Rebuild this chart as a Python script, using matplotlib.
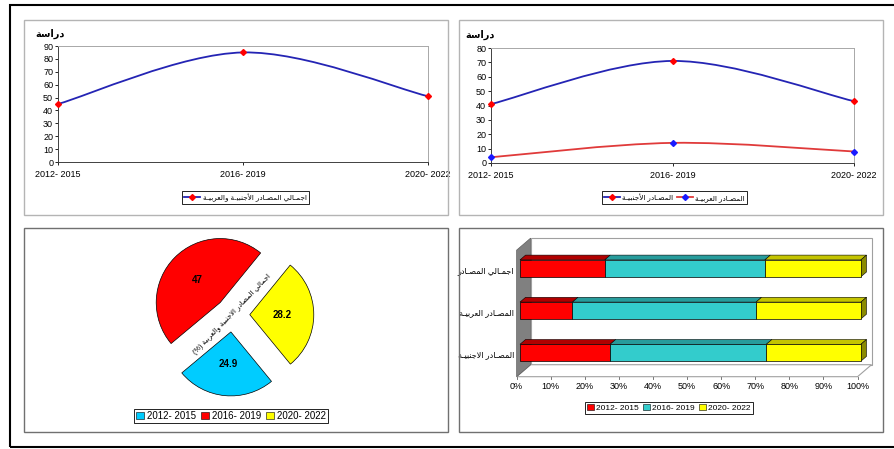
import numpy as np
import matplotlib
matplotlib.use('Agg')
import matplotlib.pyplot as plt
from matplotlib.path import Path
from matplotlib.patches import PathPatch, Polygon, Rectangle, Patch
from matplotlib.lines import Line2D

plt.rcParams['font.family'] = ['Liberation Sans', 'DejaVu Sans']

# data
periods = ['2012- 2015', '2016- 2019', '2020- 2022']
total = [45, 85, 51]
foreign = [41, 71, 43]
arab = [4, 14, 8]
pie_values = [24.9, 47, 28.2]

y_title = 'دراسة'
lbl_total = 'اجمـالي المصـادر الأجنبيـة والعربيـة'
lbl_foreign = 'المصـادر الأجنبيـة'
lbl_arab = 'المصـادر العربيـة'
pie_title = 'اجمالي المصادر الاجنبية والعربية (%)'
bar_rows = ['المصـادر الاجنبيـة', 'المصـادر العربيـة', 'اجمـالي المصـادر']
bar_data = [foreign, arab, total]

period_colors = ['#00CCFF', '#FF0000', '#FFFF00']
bar_colors = ['#FF0000', '#33CCCC', '#FFFF00']
bar_tops = ['#B00000', '#279C9C', '#C4C400']

# simple arabic shaping (presentation forms), then reverse for LTR drawing
FORMS = {
    'ا': ('\uFE8D', '\uFE8E', None, None),
    'أ': ('\uFE83', '\uFE84', None, None),
    'ب': ('\uFE8F', '\uFE90', '\uFE91', '\uFE92'),
    'ة': ('\uFE93', '\uFE94', None, None),
    'ج': ('\uFE9D', '\uFE9E', '\uFE9F', '\uFEA0'),
    'د': ('\uFEA9', '\uFEAA', None, None),
    'ر': ('\uFEAD', '\uFEAE', None, None),
    'س': ('\uFEB1', '\uFEB2', '\uFEB3', '\uFEB4'),
    'ص': ('\uFEB9', '\uFEBA', '\uFEBB', '\uFEBC'),
    'ع': ('\uFEC9', '\uFECA', '\uFECB', '\uFECC'),
    'ل': ('\uFEDD', '\uFEDE', '\uFEDF', '\uFEE0'),
    'م': ('\uFEE1', '\uFEE2', '\uFEE3', '\uFEE4'),
    'ن': ('\uFEE5', '\uFEE6', '\uFEE7', '\uFEE8'),
    'و': ('\uFEED', '\uFEEE', None, None),
    'ي': ('\uFEF1', '\uFEF2', '\uFEF3', '\uFEF4'),
}
LAMALEF = {'ا': ('\uFEFB', '\uFEFC'), 'أ': ('\uFEF7', '\uFEF8')}
TATWEEL = '\u0640'


def ar(s):
    toks = []
    i = 0
    while i < len(s):
        if s[i] == 'ل' and i + 1 < len(s) and s[i + 1] in LAMALEF:
            toks.append(('LA', s[i + 1]))
            i += 2
        else:
            toks.append(('C', s[i]))
            i += 1

    def joins_next(t):
        if t[0] == 'LA':
            return False
        if t[1] == TATWEEL:
            return True
        f = FORMS.get(t[1])
        return f is not None and f[2] is not None

    def joining(t):
        return t[0] == 'LA' or t[1] in FORMS or t[1] == TATWEEL

    out = []
    for k, t in enumerate(toks):
        prev = toks[k - 1] if k > 0 else None
        nxt = toks[k + 1] if k + 1 < len(toks) else None
        jp = prev is not None and joins_next(prev) and joining(t)
        jn = nxt is not None and joins_next(t) and joining(nxt)
        if t[0] == 'LA':
            out.append(LAMALEF[t[1]][1] if jp else LAMALEF[t[1]][0])
        elif t[1] in FORMS:
            iso, fin, ini, med = FORMS[t[1]]
            out.append(med if jp and jn else fin if jp else ini if jn else iso)
        else:
            out.append(t[1])
    return ''.join(out)[::-1].translate(str.maketrans('()', ')('))


W, H = 894, 449
fig = plt.figure(figsize=(W / 100, H / 100), dpi=100)


def box(x0, y0, x1, y1):
    return [x0 / W, 1 - y1 / H, (x1 - x0) / W, (y1 - y0) / H]


def frame(x0, y0, x1, y1, color, lw=1.0):
    fig.add_artist(Rectangle((x0 / W, 1 - y1 / H), (x1 - x0) / W, (y1 - y0) / H,
                             transform=fig.transFigure, fill=False, ec=color, lw=lw))


# outer border and panels
frame(10, 5, 900, 447, 'black', 1.5)
frame(24, 20, 448, 215, '#b4b4b4')
frame(459, 20, 883, 215, '#b4b4b4')
frame(24, 228, 448, 432, '#707070')
frame(459, 228, 883, 432, '#707070')


def smooth_path(xs, ys):
    pts = np.column_stack([xs, ys]).astype(float)
    ext = np.vstack([pts[0], pts, pts[-1]])
    verts = [pts[0]]
    codes = [Path.MOVETO]
    for i in range(len(pts) - 1):
        p0, p1, p2, p3 = ext[i], ext[i + 1], ext[i + 2], ext[i + 3]
        verts += [p1 + (p2 - p0) / 6, p2 - (p3 - p1) / 6, p2]
        codes += [Path.CURVE4] * 3
    return Path(verts, codes)


def line_chart(rect, series, ymax, title_pos, legend_pos):
    ax = fig.add_axes(rect)
    x = np.arange(len(periods))
    handles = []
    for ys, lc, mc, label in series:
        ax.add_patch(PathPatch(smooth_path(x, ys), fill=False, ec=lc, lw=1.3, zorder=2))
        ax.plot(x, ys, ls='none', marker='D', ms=3, color=mc, zorder=3, clip_on=False)
        handles.append(Line2D([], [], color=lc, lw=1.3, marker='D', ms=3,
                              mfc=mc, mec=mc, label=ar(label)))
    ax.set_xlim(0, len(periods) - 1)
    ax.set_ylim(0, ymax)
    ax.set_yticks(range(0, ymax + 1, 10))
    ax.set_xticks(x)
    ax.set_xticklabels(periods)
    ax.tick_params(axis='y', labelsize=6.5, length=2, pad=1.5, width=0.6)
    ax.tick_params(axis='x', labelsize=6.5, length=2.5, pad=3, width=0.6)
    for s in ['left', 'bottom']:
        ax.spines[s].set_color('#404040')
        ax.spines[s].set_linewidth(0.7)
    for s in ['top', 'right']:
        ax.spines[s].set_color('#a8a8a8')
        ax.spines[s].set_linewidth(0.7)
    ax.text(title_pos[0], title_pos[1], ar(y_title), transform=ax.transAxes,
            ha='center', va='center', fontsize=7, fontweight='bold')
    leg = fig.legend(handles=handles, loc='center', ncol=len(handles),
                     bbox_to_anchor=(legend_pos[0] / W, 1 - legend_pos[1] / H),
                     fontsize=5.2, fancybox=False, edgecolor='black', framealpha=1,
                     handlelength=2.2, handletextpad=0.3, columnspacing=0.6,
                     borderpad=0.3)
    leg.get_frame().set_linewidth(0.6)
    return ax


line_chart(box(58, 46, 428, 162), [(total, '#2424b4', '#ff0000', lbl_total)],
           90, (-0.022, 1.103), (245.5, 197.5))
line_chart(box(491, 48, 854, 163),
           [(foreign, '#2424b4', '#ff0000', lbl_foreign),
            (arab, '#e03a3a', '#1a1aff', lbl_arab)],
           80, (-0.03, 1.113), (674.5, 197.5))

# pie
cx, cy, r = 232.5, 314.7, 64
ax3 = fig.add_axes(box(cx - 100, cy - 100, cx + 100, cy + 100))
pie_sum = sum(pie_values)
ax3.pie(pie_values, colors=period_colors, explode=[0.27] * 3, startangle=-50.6,
        counterclock=False, pctdistance=0.5,
        autopct=lambda p: f'{round(p * pie_sum / 100, 1):g}',
        wedgeprops=dict(edgecolor='black', linewidth=0.5),
        textprops=dict(fontsize=7, fontweight='bold'))
ax3.set_xlim(-100 / r, 100 / r)
ax3.set_ylim(-100 / r, 100 / r)
ax3.text(0, 0, ar(pie_title), rotation=46, ha='center', va='center', fontsize=5.2)
leg = fig.legend(handles=[Patch(fc=c, ec='black', lw=0.4, label=p)
                          for c, p in zip(period_colors, periods)],
                 loc='center', bbox_to_anchor=(231 / W, 1 - 416 / H), ncol=3,
                 fontsize=7, fancybox=False, edgecolor='black', framealpha=1,
                 handlelength=0.8, handleheight=0.8, handletextpad=0.3,
                 columnspacing=0.5, borderpad=0.25)
leg.get_frame().set_linewidth(0.6)

# 3d-like stacked 100% bars
ax4 = fig.add_axes(box(505, 235, 880, 385))
ax4.set_xlim(-4.4, 105.6)
ax4.set_ylim(-0.765, 2.79)
ax4.axis('off')
Dx, Dy = 4.1, 0.284          # full depth in data units
z0, z1 = -0.24, 0.76         # floor front / back wall depth
bh, bd = 0.4, 0.4            # bar height, bar depth
ytop = 2.5


def P(x, y, z):
    return (x + z * Dx, y + z * Dy)


ax4.add_patch(Polygon([P(0, -0.5, z1), P(100, -0.5, z1), P(100, ytop, z1), P(0, ytop, z1)],
                      closed=True, fc='white', ec='#a0a0a0', lw=0.8, zorder=1))
ax4.add_patch(Polygon([P(0, -0.5, z0), P(100, -0.5, z0), P(100, -0.5, z1), P(0, -0.5, z1)],
                      closed=True, fc='white', ec='#a0a0a0', lw=0.8, zorder=1))
ax4.add_patch(Polygon([P(0, -0.5, z0), P(0, ytop, z0), P(0, ytop, z1), P(0, -0.5, z1)],
                      closed=True, fc='#808080', ec='#606060', lw=0.5, zorder=1))

for i, row in enumerate(bar_data):
    pct = np.array(row) / sum(row) * 100
    left = np.concatenate([[0], np.cumsum(pct)[:-1]])
    ax4.barh(i, pct, left=left, height=bh, color=bar_colors, edgecolor='black',
             linewidth=0.5, zorder=3)
    yt = i + bh / 2
    for l, w, c in zip(left, pct, bar_tops):
        ax4.add_patch(Polygon([(l, yt), (l + w, yt), (l + w + bd * Dx, yt + bd * Dy),
                               (l + bd * Dx, yt + bd * Dy)], closed=True, fc=c,
                              ec='black', lw=0.4, zorder=2))
    end = left[-1] + pct[-1]
    ax4.add_patch(Polygon([(end, i - bh / 2), (end, yt), (end + bd * Dx, yt + bd * Dy),
                           (end + bd * Dx, i - bh / 2 + bd * Dy)], closed=True,
                          fc='#8a8a00', ec='black', lw=0.4, zorder=2))
    ax4.text(z0 * Dx - 0.8, i + z0 * Dy, ar(bar_rows[i]), ha='right', va='center',
             fontsize=5.8)

for t in range(0, 101, 10):
    fx, fy = P(t, -0.5, z0)
    ax4.plot([fx, fx], [fy, fy - 0.06], color='#606060', lw=0.6, zorder=1)
    ax4.text(fx, fy - 0.12, f'{t}%', ha='center', va='top', fontsize=6.5)

leg = fig.legend(handles=[Patch(fc=c, ec='black', lw=0.4, label=p)
                          for c, p in zip(bar_colors, periods)],
                 loc='center', bbox_to_anchor=(669 / W, 1 - 408 / H), ncol=3,
                 fontsize=6, fancybox=False, edgecolor='black', framealpha=1,
                 handlelength=0.8, handleheight=0.8, handletextpad=0.3,
                 columnspacing=0.5, borderpad=0.25)
leg.get_frame().set_linewidth(0.6)

fig.savefig('out.png', dpi=100)
